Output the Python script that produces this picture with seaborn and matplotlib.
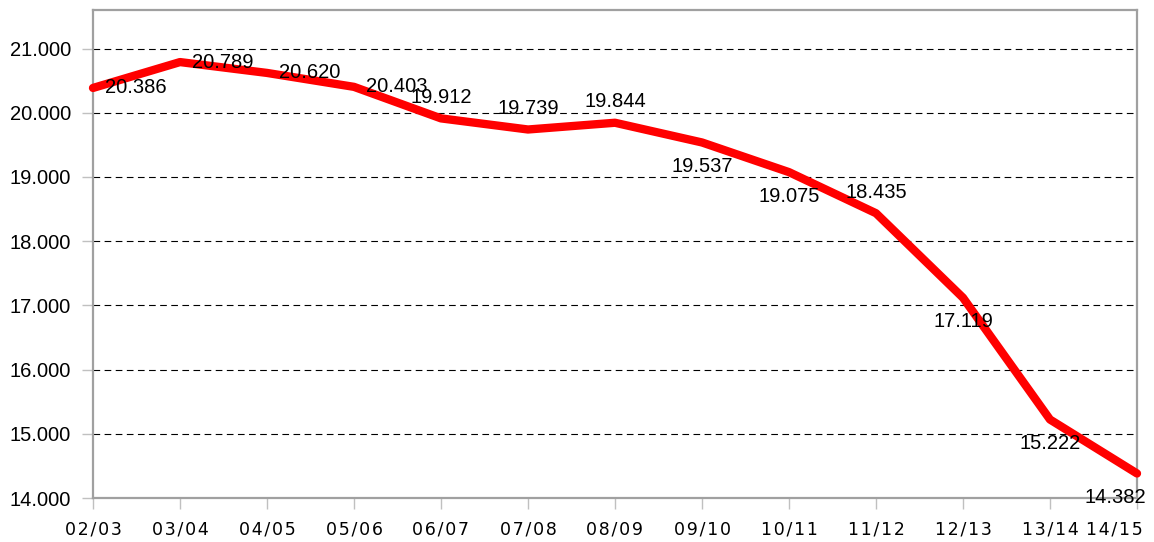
import matplotlib
matplotlib.use("Agg")
import matplotlib.pyplot as plt
import matplotlib.transforms as mtrans
import seaborn as sns
import pandas as pd

# season labels and values
seasons = ["02/03", "03/04", "04/05", "05/06", "06/07", "07/08", "08/09",
           "09/10", "10/11", "11/12", "12/13", "13/14", "14/15"]
values = [20386, 20789, 20620, 20403, 19912, 19739, 19844,
          19537, 19075, 18435, 17119, 15222, 14382]
# where each value label sits relative to its point
label_side = ["right", "right", "right", "right", "above", "above", "above",
              "below", "below", "above", "below", "below", "below_left"]
y_ticks = [14000, 15000, 16000, 17000, 18000, 19000, 20000, 21000]


def fmt(v):
    # dot as thousands separator
    return f"{v:,.0f}".replace(",", ".")


sns.set_theme(style="white")
plt.rcParams["font.family"] = ["Liberation Sans", "DejaVu Sans"]

df = pd.DataFrame({"pos": range(len(seasons)), "season": seasons, "value": values})

fig = plt.figure(figsize=(11.54, 5.42), dpi=100)
ax = fig.add_axes([93 / 1154, 44 / 542, 1044 / 1154, 488 / 542])

sns.lineplot(data=df, x="pos", y="value", ax=ax, color="#ff0000",
             linewidth=6, clip_on=False, zorder=3)

ax.set_xlim(0, len(seasons) - 1)
ax.set_ylim(14000, 21600)
ax.set_yticks(y_ticks)
ax.set_yticklabels([fmt(t) for t in y_ticks], fontsize=14.5, color="black")
ax.set_xticks(df["pos"])
ax.set_xticklabels(["\u200a".join(s) for s in seasons], fontsize=12.5,
                   family="DejaVu Sans", color="black")
ax.set_xlabel("")
ax.set_ylabel("")

ax.yaxis.grid(True, linestyle=(0, (6, 4)), color="black", linewidth=0.8)
ax.xaxis.grid(False)
for sp in ax.spines.values():
    sp.set_color("#a0a0a0")
    sp.set_linewidth(1.6)
ax.tick_params(axis="both", which="major", direction="out", color="#c0c0c0",
               width=1, length=8, left=True, bottom=True)
ax.tick_params(axis="y", pad=8)
ax.tick_params(axis="x", pad=8)

# last category label is pulled inside the picture, as in the original
last = ax.get_xticklabels()[-1]
last.set_horizontalalignment("right")
last.set_transform(last.get_transform()
                   + mtrans.ScaledTranslation(6 / 100, 0, fig.dpi_scale_trans))

offsets = {"right": ((12, 0), "left", "center"),
           "above": ((0, 21), "center", "center"),
           "below": ((0, -24), "center", "center"),
           "below_left": ((9, -24), "right", "center")}
for x, v, side in zip(df["pos"], values, label_side):
    off, ha, va = offsets[side]
    ax.annotate(fmt(v), (x, v), xytext=off, textcoords="offset pixels",
                ha=ha, va=va, fontsize=14.5, color="black",
                annotation_clip=False, zorder=4)

fig.savefig("out.png", dpi=100)
